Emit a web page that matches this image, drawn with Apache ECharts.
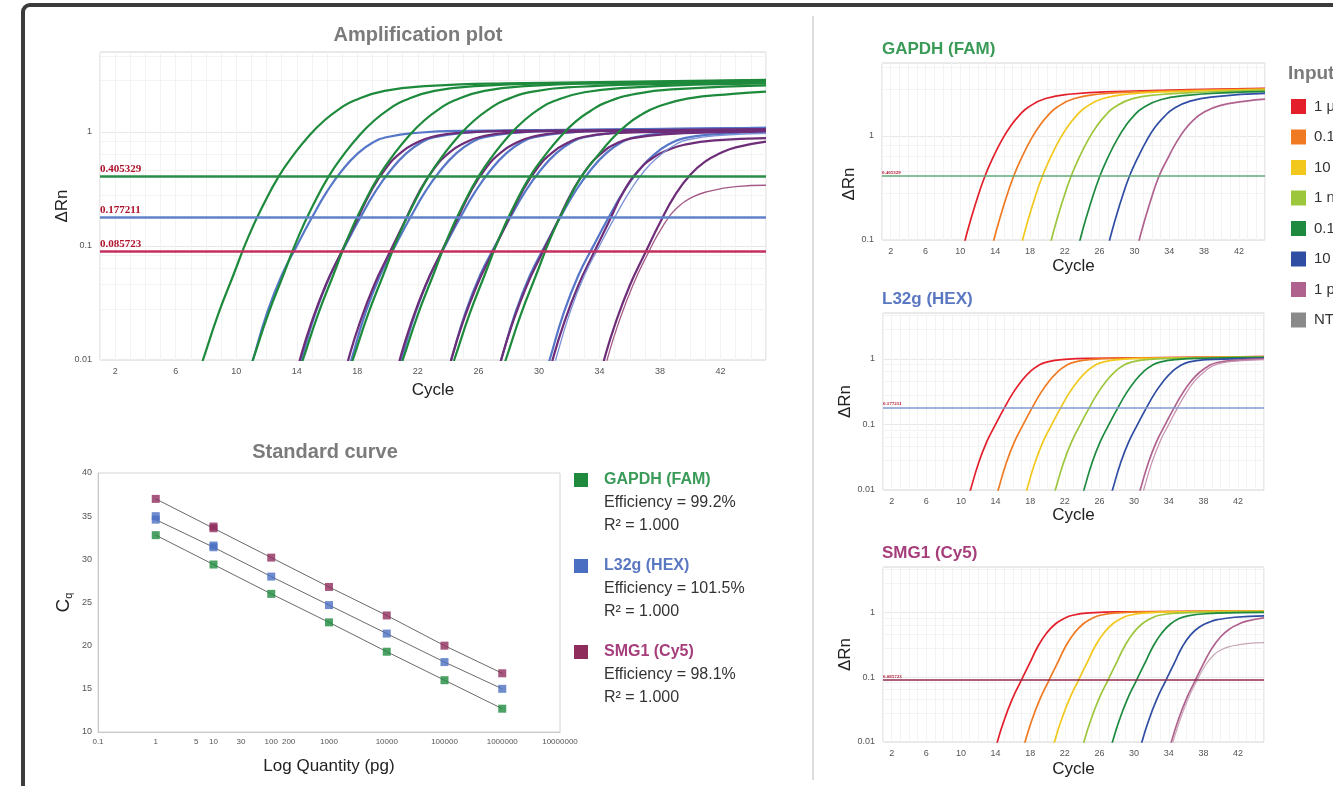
<!DOCTYPE html>
<html><head><meta charset="utf-8">
<script src="https://cdn.jsdelivr.net/npm/echarts@6/dist/echarts.min.js"></script>
<style>html,body{margin:0;padding:0;background:#fff}#c{width:1333px;height:786px}</style>
</head><body><div id="c"></div>
<script>
// ---------- DATA ----------
const cycleLabels = [2, 6, 10, 14, 18, 22, 26, 30, 34, 38, 42];
const dilutions = ['1 μg', '0.1 μg', '10 ng', '1 ng', '0.1 ng', '10 pg', '1 pg', 'NTC'];
const thresholds = [0.405329, 0.177211, 0.085723]; // GAPDH, L32g, SMG1

// amplification curves: [cycle, ΔRn]
const gapdhCurves = [
  [[7.0,0.005],[7.8,0.01],[8.8,0.025],[9.8,0.055],[10.8,0.12],[11.8,0.23],[12.8,0.405],[13.8,0.63],[14.8,0.92],[15.8,1.25],[16.8,1.58],[17.8,1.88],[19.8,2.28],[22.8,2.52],[27.8,2.66],[45,2.85]],
  [[10.3,0.005],[11.1,0.01],[12.1,0.025],[13.1,0.055],[14.1,0.12],[15.1,0.23],[16.1,0.405],[17.1,0.63],[18.1,0.92],[19.1,1.25],[20.1,1.58],[21.1,1.88],[23.1,2.28],[26.1,2.52],[31.1,2.66],[45,2.82]],
  [[13.6,0.005],[14.4,0.01],[15.4,0.025],[16.4,0.055],[17.4,0.12],[18.4,0.23],[19.4,0.405],[20.4,0.63],[21.4,0.92],[22.4,1.25],[23.4,1.58],[24.4,1.88],[26.4,2.28],[29.4,2.52],[34.4,2.66],[45,2.8]],
  [[16.9,0.005],[17.7,0.01],[18.7,0.025],[19.7,0.055],[20.7,0.12],[21.7,0.23],[22.7,0.405],[23.7,0.63],[24.7,0.92],[25.7,1.25],[26.7,1.58],[27.7,1.88],[29.7,2.26],[32.7,2.48],[37.7,2.62],[45,2.75]],
  [[20.2,0.005],[21.0,0.01],[22.0,0.025],[23.0,0.055],[24.0,0.12],[25.0,0.23],[26.0,0.405],[27.0,0.63],[28.0,0.92],[29.0,1.25],[30.0,1.58],[31.0,1.86],[33.0,2.22],[36.0,2.44],[41.0,2.6],[45,2.66]],
  [[23.6,0.005],[24.4,0.01],[25.4,0.025],[26.4,0.055],[27.4,0.12],[28.4,0.23],[29.4,0.405],[30.4,0.62],[31.4,0.9],[32.4,1.22],[33.4,1.52],[34.4,1.8],[36.4,2.15],[39.4,2.38],[45,2.55]],
  [[27.0,0.005],[27.8,0.01],[28.8,0.025],[29.8,0.055],[30.8,0.12],[31.8,0.23],[32.8,0.405],[33.8,0.6],[34.8,0.86],[35.8,1.15],[36.8,1.42],[37.8,1.65],[39.8,1.95],[42.8,2.15],[45,2.25]]
];
const l32gCurves = [
  [[10.4,0.005],[11.1,0.01],[12.0,0.025],[13.0,0.055],[14.0,0.1],[15.0,0.177],[16.0,0.3],[17.0,0.46],[18.0,0.64],[19.0,0.8],[20.0,0.9],[22.0,0.98],[25.0,1.02],[45,1.08]],
  [[13.6,0.005],[14.3,0.01],[15.2,0.025],[16.2,0.055],[17.2,0.1],[18.2,0.177],[19.2,0.3],[20.2,0.46],[21.2,0.64],[22.2,0.8],[23.2,0.9],[25.2,0.98],[28.2,1.02],[45,1.08]],
  [[16.9,0.005],[17.6,0.01],[18.5,0.025],[19.5,0.055],[20.5,0.1],[21.5,0.177],[22.5,0.3],[23.5,0.46],[24.5,0.64],[25.5,0.8],[26.5,0.9],[28.5,0.98],[31.5,1.02],[45,1.07]],
  [[20.2,0.005],[20.9,0.01],[21.8,0.025],[22.8,0.055],[23.8,0.1],[24.8,0.177],[25.8,0.3],[26.8,0.46],[27.8,0.64],[28.8,0.8],[29.8,0.9],[31.8,0.98],[34.8,1.02],[45,1.06]],
  [[23.5,0.005],[24.2,0.01],[25.1,0.025],[26.1,0.055],[27.1,0.1],[28.1,0.177],[29.1,0.3],[30.1,0.46],[31.1,0.64],[32.1,0.8],[33.1,0.9],[35.1,0.98],[38.1,1.02],[45,1.05]],
  [[26.8,0.005],[27.5,0.01],[28.4,0.025],[29.4,0.055],[30.4,0.1],[31.4,0.177],[32.4,0.3],[33.4,0.46],[34.4,0.64],[35.4,0.8],[36.4,0.9],[38.4,0.97],[41.4,1.0],[45,1.03]],
  [[30.0,0.005],[30.7,0.01],[31.6,0.025],[32.6,0.055],[33.6,0.1],[34.6,0.177],[35.6,0.3],[36.6,0.46],[37.6,0.63],[38.6,0.78],[39.6,0.88],[41.6,0.95],[45,1.0]]
];
const l32gExtra = [[30.4,0.005],[31.1,0.01],[32.0,0.025],[33.0,0.055],[34.0,0.1],[35.0,0.177],[36.0,0.3],[37.0,0.46],[38.0,0.62],[39.0,0.77],[40.0,0.86],[42.0,0.93],[45,0.97]];
const smg1Curves = [
  [[13.6,0.005],[14.2,0.01],[14.9,0.02],[15.9,0.045],[16.9,0.0857],[17.9,0.16],[18.9,0.3],[19.9,0.48],[20.9,0.66],[21.9,0.8],[22.9,0.9],[24.9,0.98],[28.9,1.02],[45,1.05]],
  [[16.8,0.005],[17.4,0.01],[18.1,0.02],[19.1,0.045],[20.1,0.0857],[21.1,0.16],[22.1,0.3],[23.1,0.48],[24.1,0.66],[25.1,0.8],[26.1,0.9],[28.1,0.98],[32.1,1.02],[45,1.05]],
  [[20.2,0.005],[20.8,0.01],[21.5,0.02],[22.5,0.045],[23.5,0.0857],[24.5,0.16],[25.5,0.3],[26.5,0.48],[27.5,0.66],[28.5,0.8],[29.5,0.9],[31.5,0.98],[35.5,1.02],[45,1.04]],
  [[23.6,0.005],[24.2,0.01],[24.9,0.02],[25.9,0.045],[26.9,0.0857],[27.9,0.16],[28.9,0.3],[29.9,0.48],[30.9,0.66],[31.9,0.8],[32.9,0.9],[34.9,0.97],[38.9,1.0],[45,1.02]],
  [[26.9,0.005],[27.5,0.01],[28.2,0.02],[29.2,0.045],[30.2,0.0857],[31.2,0.16],[32.2,0.3],[33.2,0.48],[34.2,0.66],[35.2,0.8],[36.2,0.88],[38.2,0.95],[42.2,0.99],[45,1.0]],
  [[30.3,0.005],[30.9,0.01],[31.6,0.02],[32.6,0.045],[33.6,0.0857],[34.6,0.16],[35.6,0.3],[36.6,0.46],[37.6,0.6],[38.6,0.7],[39.6,0.77],[41.6,0.84],[45,0.88]],
  [[33.7,0.005],[34.3,0.01],[35.0,0.02],[36.0,0.045],[37.0,0.0857],[38.0,0.16],[39.0,0.28],[40.0,0.42],[41.0,0.55],[42.0,0.65],[43.0,0.73],[45,0.82]]
];
const smg1Extra = [[33.9,0.005],[34.5,0.01],[35.2,0.02],[36.2,0.045],[37.2,0.0857],[38.2,0.15],[39.2,0.22],[40.2,0.27],[41.2,0.3],[43.0,0.33],[45,0.34]];

// standard curve
const stdQuantity = [1, 10, 100, 1000, 10000, 100000, 1000000];
const gapdhCq = [32.8, 29.4, 26.0, 22.7, 19.3, 16.0, 12.7];
const l32gCq  = [34.6, 31.4, 28.0, 24.7, 21.4, 18.1, 15.0];
const smg1Cq  = [37.0, 33.6, 30.2, 26.8, 23.5, 20.0, 16.8];
const l32gCqRep = [[1, 35.0], [10, 31.6]];
const smg1CqRep = [[10, 33.8]];
const stdXLabels = [0.1, 1, 5, 10, 30, 100, 200, 1000, 10000, 100000, 1000000, 10000000];
const targets = ['GAPDH (FAM)', 'L32g (HEX)', 'SMG1 (Cy5)'];
const efficiencies = ['99.2%', '101.5%', '98.1%'];
const rSquared = ['1.000', '1.000', '1.000'];

// ---------- STYLE ----------
const FONT = '"Liberation Sans", Arial, sans-serif';
const targetColors = ['#1e8a3c', '#5677c8', '#6e2d78'];
const targetText = ['#3a9a58', '#5a78c2', '#a63e7c'];
const markerColors = ['#1f8a3e', '#4a6fc2', '#8e2d5c'];
const thrLeftColors = ['#2a8c48', '#6082c8', '#c2305e'];
const thrRightColors = ['#62a87a', '#8198d2', '#902a4c'];
const dilutionColors = ['#e41f2b', '#f07a22', '#f2c81c', '#9cc63b', '#1d8a3f', '#2f4da3', '#b0628f', '#8a8a8a'];

const fmtNum = v => String(Number(v.toPrecision(6)));

function cycleAxis(gi, gap) {
  return {
    type: 'value', gridIndex: gi, min: 1, max: 45, interval: 1,
    name: 'Cycle', nameLocation: 'middle', nameGap: gap,
    nameTextStyle: { fontSize: 17, color: '#222', fontFamily: FONT },
    axisLine: { show: false }, axisTick: { show: false },
    axisLabel: { fontSize: 9, color: '#555', margin: 7, fontFamily: FONT,
      formatter: v => cycleLabels.includes(v) ? String(v) : '' },
    splitLine: { show: true, lineStyle: { color: '#f3f3f3', width: 1 } }
  };
}
function logAxis(gi, min, gap, name) {
  return {
    type: 'log', logBase: 10, gridIndex: gi, min: min, max: 5,
    name: name, nameLocation: 'middle', nameGap: gap,
    nameTextStyle: { fontSize: 17, color: '#222', fontFamily: FONT },
    axisLine: { show: false }, axisTick: { show: false },
    axisLabel: { fontSize: 9, color: '#555', margin: 8, fontFamily: FONT,
      formatter: v => { const l = Math.log10(v); return Math.abs(l - Math.round(l)) < 1e-6 ? fmtNum(v) : ''; } },
    splitLine: { show: true, lineStyle: { color: '#e8e8e8' } },
    minorTick: { show: false },
    minorSplitLine: { show: true, lineStyle: { color: '#f3f3f3' } }
  };
}

const grids = [
  { left: 100, top: 52, width: 666, height: 308 },
  { left: 98, top: 473, width: 462, height: 259 },
  { left: 882, top: 63, width: 383, height: 177 },
  { left: 883, top: 313, width: 381, height: 177 },
  { left: 883, top: 567, width: 381, height: 175 }
].map(g => Object.assign({ show: true, borderColor: '#d4d4d4', borderWidth: 1, backgroundColor: 'transparent' }, g));

const xAxes = [
  cycleAxis(0, 22),
  {
    type: 'log', logBase: 10, gridIndex: 1, min: 0.1, max: 10000000,
    name: 'Log Quantity (pg)', nameLocation: 'middle', nameGap: 26,
    nameTextStyle: { fontSize: 17, color: '#222', fontFamily: FONT },
    axisLine: { show: true, lineStyle: { color: '#c8c8c8' } }, axisTick: { show: false },
    axisLabel: { fontSize: 8, color: '#555', margin: 6, fontFamily: FONT, customValues: stdXLabels, formatter: v => fmtNum(v) },
    splitLine: { show: false }
  },
  cycleAxis(2, 18),
  cycleAxis(3, 16),
  cycleAxis(4, 19)
];
const yAxes = [
  logAxis(0, 0.01, 28, 'ΔRn'),
  {
    type: 'value', gridIndex: 1, min: 10, max: 40, interval: 5,
    name: '{a|C}{b|q}', nameLocation: 'middle', nameGap: 24,
    nameTextStyle: { fontFamily: FONT, color: '#222', rich: { a: { fontSize: 19, color: '#222' }, b: { fontSize: 11, color: '#222', padding: [10, 0, 0, 0] } } },
    axisLine: { show: true, lineStyle: { color: '#c8c8c8' } }, axisTick: { show: false },
    axisLabel: { fontSize: 9, color: '#555', margin: 6, fontFamily: FONT },
    splitLine: { show: false }
  },
  logAxis(2, 0.1, 22, ''),
  logAxis(3, 0.01, 22, 'ΔRn'),
  logAxis(4, 0.01, 22, 'ΔRn')
];

const series = [];
function curve(data, gi, color, width, name, z) {
  return { type: 'line', name: name, xAxisIndex: gi, yAxisIndex: gi, data: data,
    showSymbol: false, symbol: 'none', smooth: 0.5, clip: true, silent: true,
    color: color, lineStyle: { color: color, width: width }, z: z || 2, animation: false };
}
function thrMark(thr, color, width, labelSize) {
  return { silent: true, symbol: 'none', animation: false,
    lineStyle: { color: color, width: width, type: 'solid' },
    label: { show: true, position: 'insideStartTop', distance: [0, 1], formatter: fmtNum(thr),
      color: '#b0122c', fontFamily: '"Liberation Serif", serif', fontSize: labelSize, fontWeight: 'bold' },
    data: [{ yAxis: thr }] };
}

// left amplification plot (coloured by target)
const leftSets = [[l32gCurves, 1], [smg1Curves, 2], [gapdhCurves, 0]];
leftSets.forEach(([set, t]) => {
  set.forEach((d, i) => {
    const s = curve(d, 0, targetColors[t], 2.2, '_' + t + '_' + i, 3);
    if (i === 0) s.markLine = thrMark(thresholds[t], thrLeftColors[t], 2.5, 11);
    series.push(s);
  });
});
series.push(curve(l32gExtra, 0, '#7b93d6', 1.3, '_le', 3));
series.push(curve(smg1Extra, 0, '#a45a86', 1.3, '_se', 3));

// right panels (coloured by dilution)
[[gapdhCurves, 2, 0], [l32gCurves, 3, 1], [smg1Curves, 4, 2]].forEach(([set, gi, t]) => {
  set.forEach((d, i) => {
    const s = curve(d, gi, dilutionColors[i], 1.7, dilutions[i], 3);
    if (i === 0) s.markLine = thrMark(thresholds[t], thrRightColors[t], 1.5, 5);
    series.push(s);
  });
});
series.push(curve(l32gExtra, 3, '#c58fae', 1.2, dilutions[6], 3));
series.push(curve(smg1Extra, 4, '#c8a6b8', 1.2, dilutions[6], 3));
series.push({ type: 'line', name: 'NTC', xAxisIndex: 2, yAxisIndex: 2, data: [], color: dilutionColors[7], itemStyle: { color: dilutionColors[7] } });

// standard curve
[[gapdhCq, [], 0], [l32gCq, l32gCqRep, 1], [smg1Cq, smg1CqRep, 2]].forEach(([cq, rep, t]) => {
  const pts = stdQuantity.map((q, i) => [q, cq[i]]);
  series.push({ type: 'line', xAxisIndex: 1, yAxisIndex: 1, data: pts, showSymbol: false, symbol: 'none',
    lineStyle: { color: '#6a6a6a', width: 1 }, silent: true, animation: false, z: 2 });
  series.push({ type: 'scatter', xAxisIndex: 1, yAxisIndex: 1, data: pts.concat(rep), symbol: 'rect', symbolSize: 8,
    itemStyle: { color: markerColors[t] }, silent: true, animation: false, z: 3 });
});

// ---------- GRAPHICS (frame, titles, legends) ----------
const graphics = [
  { type: 'rect', shape: { x: 23, y: 5, width: 1420, height: 900, r: 7 }, style: { fill: 'none', stroke: '#3b3b3b', lineWidth: 4 }, silent: true, z: 100 },
  { type: 'line', shape: { x1: 813, y1: 16, x2: 813, y2: 780 }, style: { stroke: '#d2d2d2', lineWidth: 1.5 }, silent: true },
  { type: 'text', x: 418, y: 35, style: { text: 'Amplification plot', fill: '#7b7b7b', font: 'bold 20px ' + FONT, textAlign: 'center', textVerticalAlign: 'middle' } },
  { type: 'text', x: 325, y: 452, style: { text: 'Standard curve', fill: '#7b7b7b', font: 'bold 20px ' + FONT, textAlign: 'center', textVerticalAlign: 'middle' } },
  { type: 'text', x: 882, y: 49, style: { text: targets[0], fill: targetText[0], font: 'bold 17px ' + FONT, textAlign: 'left', textVerticalAlign: 'middle' } },
  { type: 'text', x: 882, y: 299, style: { text: targets[1], fill: targetText[1], font: 'bold 17px ' + FONT, textAlign: 'left', textVerticalAlign: 'middle' } },
  { type: 'text', x: 882, y: 553, style: { text: targets[2], fill: targetText[2], font: 'bold 17px ' + FONT, textAlign: 'left', textVerticalAlign: 'middle' } },
  { type: 'text', x: 849, y: 184, rotation: Math.PI / 2, style: { text: 'ΔRn', fill: '#222', font: '17px ' + FONT, textAlign: 'center', textVerticalAlign: 'middle' } },
  { type: 'text', x: 1288, y: 74, style: { text: 'Input', fill: '#7b7b7b', font: 'bold 19px ' + FONT, textAlign: 'left', textVerticalAlign: 'middle' } }
];
const legendY = [480, 566, 652];
targets.forEach((t, i) => {
  const y = legendY[i];
  graphics.push({ type: 'rect', shape: { x: 574, y: y - 7, width: 14, height: 14 }, style: { fill: markerColors[i] } });
  graphics.push({ type: 'text', x: 604, y: y, style: { text: t, fill: targetText[i], font: 'bold 16px ' + FONT, textAlign: 'left', textVerticalAlign: 'middle' } });
  graphics.push({ type: 'text', x: 604, y: y + 23, style: { text: 'Efficiency = ' + efficiencies[i], fill: '#333', font: '16px ' + FONT, textAlign: 'left', textVerticalAlign: 'middle' } });
  graphics.push({ type: 'text', x: 604, y: y + 46, style: { text: 'R² = ' + rSquared[i], fill: '#333', font: '16px ' + FONT, textAlign: 'left', textVerticalAlign: 'middle' } });
});

const chart = echarts.init(document.getElementById('c'));
chart.setOption({
  animation: false,
  backgroundColor: '#fff',
  textStyle: { fontFamily: FONT },
  grid: grids,
  xAxis: xAxes,
  yAxis: yAxes,
  legend: {
    data: dilutions.map(n => ({ name: n, icon: 'rect' })),
    orient: 'vertical', left: 1291, top: 99, itemWidth: 15, itemHeight: 15, itemGap: 15.5,
    selectedMode: false, padding: 0,
    textStyle: { fontSize: 15, color: '#333', fontFamily: FONT, padding: [0, 0, 0, 3] }
  },
  graphic: graphics,
  series: series
});
</script>
</body></html>
